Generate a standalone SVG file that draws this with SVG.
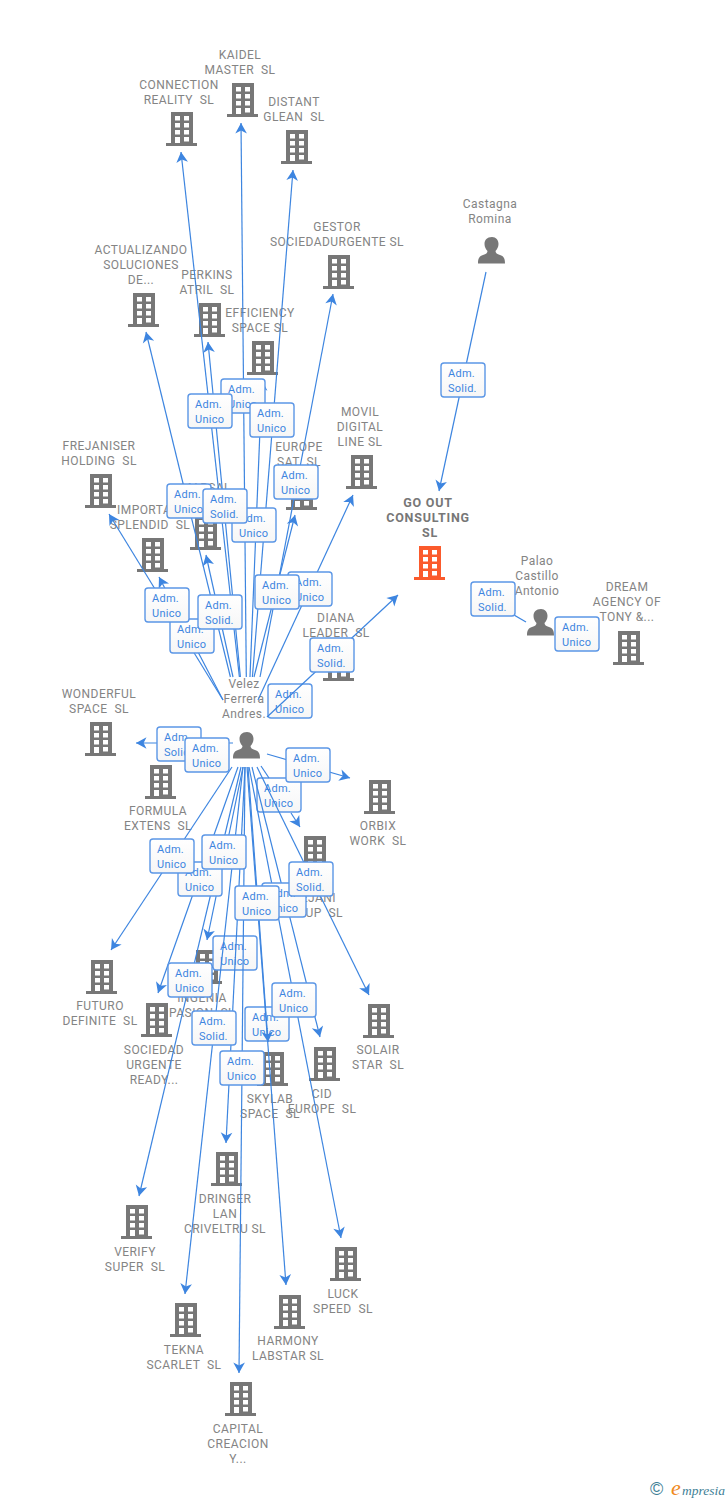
<svg xmlns="http://www.w3.org/2000/svg" width="728" height="1500" viewBox="0 0 728 1500">
<style>
text{font-family:Roboto,"Liberation Sans",sans-serif;white-space:pre}
.l{font-size:12px;fill:#848484;text-anchor:middle;letter-spacing:.45px;transform:translateY(.5px)}
.b{font-weight:700;font-size:12.500px;fill:#777;letter-spacing:.8px}
.c line{stroke:#3d85e0;stroke-width:1.2;fill:none;marker-end:url(#a)}
.c line.s{marker-end:none}
.t rect{fill:url(#g);stroke:#5b96e6;stroke-width:1.4}
.t text{font-size:11px;fill:#3d85e0;letter-spacing:.25px}
</style>
<defs>
<linearGradient id="g" x1="0" y1="0" x2="0" y2="1"><stop offset="0" stop-color="#fff"/><stop offset="1" stop-color="#f6f6f6"/></linearGradient>
<marker id="a" markerUnits="userSpaceOnUse" markerWidth="14" markerHeight="14" refX="10" refY="6" orient="auto" viewBox="0 0 12 12"><path d="M10 6 L1 1 L3.5 6 L1 11 Z" fill="#3d85e0"/></marker>
<symbol id="h" width="32" height="34" overflow="visible"><path fill="#777" fill-rule="evenodd" d="M5 0H27V31H31V34H0V31H5ZM9 4V8.5H14V4ZM18 4V8.5H23V4ZM9 11V15.5H14V11ZM18 11V15.5H23V11ZM9 18V22.5H14V18ZM18 18V22.5H23V18ZM9 25V31H14V25ZM18 25V29.5H23V25Z"/></symbol>
<symbol id="o" width="32" height="34" overflow="visible"><path fill="#fb5a2c" fill-rule="evenodd" d="M5 0H27V31H31V34H0V31H5ZM9 4V8.5H14V4ZM18 4V8.5H23V4ZM9 11V15.5H14V11ZM18 11V15.5H23V11ZM9 18V22.5H14V18ZM18 18V22.5H23V18ZM9 25V31H14V25ZM18 25V29.5H23V25Z"/></symbol>
<symbol id="p" width="28" height="27" overflow="visible"><path fill="#777" d="M14 0C18 0 20.500 3 20.500 7C20.500 10 19 12.500 17.500 14C17.500 16 19 17 22 18C25.500 19.200 27 21 27 26.500H0C0 21 1.500 19.200 5 18C8 17 9.500 16 9.500 14C8 12.500 6.500 10 6.500 7C6.500 3 9 0 14 0Z"/></symbol>
</defs>
<rect width="728" height="1500" fill="#fff"/>

<g id="n-kaidel"><use href="#h" x="227" y="83"/><text class="l" x="240" y="58">KAIDEL</text><text class="l" x="240" y="73">MASTER  SL</text></g>
<g id="n-connection"><use href="#h" x="166" y="112"/><text class="l" x="179" y="88">CONNECTION</text><text class="l" x="179" y="103">REALITY  SL</text></g>
<g id="n-distant"><use href="#h" x="281" y="130"/><text class="l" x="294" y="105">DISTANT</text><text class="l" x="294" y="120">GLEAN  SL</text></g>
<g id="n-gestor"><use href="#h" x="323" y="255"/><text class="l" x="337" y="230">GESTOR</text><text class="l" x="337" y="245">SOCIEDADURGENTE SL</text></g>
<g id="n-castagna"><use href="#p" x="478" y="237"/><text class="l" x="490" y="207">Castagna</text><text class="l" x="490" y="222">Romina</text></g>
<g id="n-actualizando"><use href="#h" x="128" y="293"/><text class="l" x="141" y="253">ACTUALIZANDO</text><text class="l" x="141" y="268">SOLUCIONES</text><text class="l" x="141" y="283">DE...</text></g>
<g id="n-perkins"><use href="#h" x="194" y="303"/><text class="l" x="207" y="278">PERKINS</text><text class="l" x="207" y="293">ATRIL  SL</text></g>
<g id="n-efficiency"><use href="#h" x="247" y="341"/><text class="l" x="260" y="316">EFFICIENCY</text><text class="l" x="260" y="331">SPACE SL</text></g>
<g id="n-movil"><use href="#h" x="346" y="455"/><text class="l" x="360" y="415">MOVIL</text><text class="l" x="360" y="430">DIGITAL</text><text class="l" x="360" y="445">LINE SL</text></g>
<g id="n-europe"><use href="#h" x="286" y="476"/><text class="l" x="299" y="450">EUROPE</text><text class="l" x="299" y="465">SAT  SL</text></g>
<g id="n-frejaniser"><use href="#h" x="85" y="474"/><text class="l" x="99" y="449">FREJANISER</text><text class="l" x="99" y="464">HOLDING  SL</text></g>
<g id="n-importa"><use href="#h" x="137" y="538"/><text class="l" x="117" y="513" style="text-anchor:start">IMPORTA</text><text class="l" x="150" y="528">SPLENDID  SL</text></g>
<g id="n-marsal"><use href="#h" x="190" y="516"/><text class="l" x="206" y="491">MARSAL</text></g>
<g id="n-goout"><use href="#o" x="414" y="546"/><text class="l b" x="428" y="506">GO OUT</text><text class="l b" x="428" y="521">CONSULTING</text><text class="l b" x="430" y="536">SL</text></g>
<g id="n-palao"><use href="#p" x="527" y="609"/><text class="l" x="537" y="564">Palao</text><text class="l" x="537" y="579">Castillo</text><text class="l" x="537" y="594">Antonio</text></g>
<g id="n-dream"><use href="#h" x="613" y="631"/><text class="l" x="627" y="590">DREAM</text><text class="l" x="627" y="605">AGENCY OF</text><text class="l" x="627" y="620">TONY &amp;...</text></g>
<g id="n-diana"><use href="#h" x="323" y="647"/><text class="l" x="336" y="621">DIANA</text><text class="l" x="336" y="636">LEADER  SL</text></g>
<g id="n-wonderful"><use href="#h" x="85" y="722"/><text class="l" x="99" y="697">WONDERFUL</text><text class="l" x="99" y="712">SPACE  SL</text></g>
<g id="n-velez"><use href="#p" x="233" y="732"/><text class="l" x="244" y="687">Velez</text><text class="l" x="244" y="702">Ferrera</text><text class="l" x="244" y="717">Andres.</text></g>
<g id="n-formula"><use href="#h" x="145" y="765"/><text class="l" x="158" y="814">FORMULA</text><text class="l" x="158" y="829">EXTENS  SL</text></g>
<g id="n-orbix"><use href="#h" x="364" y="780"/><text class="l" x="378" y="829">ORBIX</text><text class="l" x="378" y="844">WORK  SL</text></g>
<g id="n-fejani"><use href="#h" x="299" y="836"/><text class="l" x="336" y="901" style="text-anchor:end">EJANI</text><text class="l" x="343" y="916" style="text-anchor:end">UP  SL</text></g>
<g id="n-futuro"><use href="#h" x="86" y="960"/><text class="l" x="100" y="1009">FUTURO</text><text class="l" x="100" y="1024">DEFINITE  SL</text></g>
<g id="n-ingenia"><use href="#h" x="191" y="950"/><text class="l" x="202" y="1001">INGENIA</text><text class="l" x="202" y="1016">PASION  SL</text></g>
<g id="n-sociedad"><use href="#h" x="141" y="1003"/><text class="l" x="154" y="1053">SOCIEDAD</text><text class="l" x="154" y="1068">URGENTE</text><text class="l" x="154" y="1083">READY...</text></g>
<g id="n-solair"><use href="#h" x="363" y="1004"/><text class="l" x="378" y="1053">SOLAIR</text><text class="l" x="378" y="1068">STAR  SL</text></g>
<g id="n-skylab"><use href="#h" x="257" y="1052"/><text class="l" x="270" y="1102">SKYLAB</text><text class="l" x="270" y="1117">SPACE  SL</text></g>
<g id="n-cid"><use href="#h" x="309" y="1047"/><text class="l" x="322" y="1097">CID</text><text class="l" x="322" y="1112">EUROPE  SL</text></g>
<g id="n-dringer"><use href="#h" x="211" y="1152"/><text class="l" x="225" y="1202">DRINGER</text><text class="l" x="225" y="1217">LAN</text><text class="l" x="225" y="1232">CRIVELTRU SL</text></g>
<g id="n-verify"><use href="#h" x="121" y="1205"/><text class="l" x="135" y="1255">VERIFY</text><text class="l" x="135" y="1270">SUPER  SL</text></g>
<g id="n-luck"><use href="#h" x="330" y="1247"/><text class="l" x="343" y="1297">LUCK</text><text class="l" x="343" y="1312">SPEED  SL</text></g>
<g id="n-tekna"><use href="#h" x="170" y="1303"/><text class="l" x="184" y="1353">TEKNA</text><text class="l" x="184" y="1368">SCARLET  SL</text></g>
<g id="n-harmony"><use href="#h" x="274" y="1295"/><text class="l" x="288" y="1344">HARMONY</text><text class="l" x="288" y="1359">LABSTAR SL</text></g>
<g id="n-capital"><use href="#h" x="225" y="1382"/><text class="l" x="238" y="1432">CAPITAL</text><text class="l" x="238" y="1447">CREACION</text><text class="l" x="238" y="1462">Y...</text></g>

<g id="labels-under" class="t">
<g transform="translate(268,684)"><rect width="44" height="34" rx="3"/><text x="7" y="14">Adm.</text><text x="7" y="29">Unico</text></g>
<g transform="translate(245,1007)"><rect width="44" height="34" rx="3"/><text x="7" y="14">Adm.</text><text x="7" y="29">Unico</text></g>
<g transform="translate(213,936)"><rect width="44" height="34" rx="3"/><text x="7" y="14">Adm.</text><text x="7" y="29">Unico</text></g>
<g transform="translate(257,778)"><rect width="44" height="34" rx="3"/><text x="7" y="14">Adm.</text><text x="7" y="29">Unico</text></g>
</g>

<g id="connectors" class="c">
<line x1="239.400" y1="677" x2="181" y2="152"/>
<line x1="246.300" y1="677" x2="241" y2="123"/>
<line x1="252.400" y1="677" x2="293" y2="170"/>
<line x1="260" y1="677" x2="333" y2="294"/>
<line x1="230.400" y1="677" x2="146" y2="332"/>
<line x1="240.400" y1="677" x2="208" y2="342"/>
<line x1="250" y1="677" x2="262" y2="380"/>
<line x1="258" y1="700" x2="353" y2="495"/>
<line x1="254" y1="677" x2="295" y2="515"/>
<line x1="223" y1="700" x2="109" y2="514"/>
<line x1="223" y1="700" x2="159" y2="577"/>
<line x1="233" y1="677" x2="206" y2="555"/>
<line x1="267" y1="717" x2="398" y2="595"/>
<line x1="233" y1="743" x2="136" y2="743"/>
<line x1="267" y1="754" x2="350" y2="778"/>
<line class="s" x1="261" y1="766" x2="269" y2="778"/>
<line x1="291" y1="813" x2="300" y2="827"/>
<line x1="257" y1="767" x2="369" y2="995"/>
<line x1="232" y1="767" x2="111" y2="950"/>
<line x1="238" y1="767" x2="158" y2="993"/>
<line x1="243" y1="767" x2="207" y2="940"/>
<line x1="252" y1="767" x2="320" y2="1037"/>
<line x1="248" y1="767" x2="268" y2="1042"/>
<line x1="245" y1="767" x2="226" y2="1143"/>
<line x1="241" y1="767" x2="139" y2="1196"/>
<line x1="249" y1="767" x2="341" y2="1238"/>
<line x1="243" y1="767" x2="185" y2="1294"/>
<line x1="247" y1="767" x2="286" y2="1285"/>
<line x1="245" y1="767" x2="239" y2="1373"/>
<line x1="486" y1="272" x2="439" y2="491"/>
<line x1="526" y1="622" x2="471" y2="590"/>
<line x1="555" y1="630" x2="598" y2="640"/>
</g>

<g id="labels" class="t">
<g transform="translate(441,363)"><rect width="44" height="34" rx="3"/><text x="7" y="14">Adm.</text><text x="7" y="29">Solid.</text></g>
<g transform="translate(221,379)"><rect width="44" height="34" rx="3"/><text x="7" y="14">Adm.</text><text x="7" y="29">Unico</text></g>
<g transform="translate(250,403)"><rect width="44" height="34" rx="3"/><text x="7" y="14">Adm.</text><text x="7" y="29">Unico</text></g>
<g transform="translate(188,394)"><rect width="44" height="34" rx="3"/><text x="7" y="14">Adm.</text><text x="7" y="29">Unico</text></g>
<g transform="translate(274,465)"><rect width="44" height="34" rx="3"/><text x="7" y="14">Adm.</text><text x="7" y="29">Unico</text></g>
<g transform="translate(232,508)"><rect width="44" height="34" rx="3"/><text x="7" y="14">Adm.</text><text x="7" y="29">Unico</text></g>
<g transform="translate(167,484)"><rect width="44" height="34" rx="3"/><text x="7" y="14">Adm.</text><text x="7" y="29">Unico</text></g>
<g transform="translate(203,489)"><rect width="44" height="34" rx="3"/><text x="7" y="14">Adm.</text><text x="7" y="29">Solid.</text></g>
<g transform="translate(288,572)"><rect width="44" height="34" rx="3"/><text x="7" y="14">Adm.</text><text x="7" y="29">Unico</text></g>
<g transform="translate(255,575)"><rect width="44" height="34" rx="3"/><text x="7" y="14">Adm.</text><text x="7" y="29">Unico</text></g>
<g transform="translate(170,619)"><rect width="44" height="34" rx="3"/><text x="7" y="14">Adm.</text><text x="7" y="29">Unico</text></g>
<g transform="translate(145,588)"><rect width="44" height="34" rx="3"/><text x="7" y="14">Adm.</text><text x="7" y="29">Unico</text></g>
<g transform="translate(198,595)"><rect width="44" height="34" rx="3"/><text x="7" y="14">Adm.</text><text x="7" y="29">Solid.</text></g>
<g transform="translate(310,638)"><rect width="44" height="34" rx="3"/><text x="7" y="14">Adm.</text><text x="7" y="29">Solid.</text></g>
<g transform="translate(471,582)"><rect width="44" height="34" rx="3"/><text x="7" y="14">Adm.</text><text x="7" y="29">Solid.</text></g>
<g transform="translate(555,617)"><rect width="44" height="34" rx="3"/><text x="7" y="14">Adm.</text><text x="7" y="29">Unico</text></g>
<g transform="translate(157,727)"><rect width="44" height="34" rx="3"/><text x="7" y="14">Adm.</text><text x="7" y="29">Solid.</text></g>
<g transform="translate(185,738)"><rect width="44" height="34" rx="3"/><text x="7" y="14">Adm.</text><text x="7" y="29">Unico</text></g>
<g transform="translate(286,748)"><rect width="44" height="34" rx="3"/><text x="7" y="14">Adm.</text><text x="7" y="29">Unico</text></g>
<g transform="translate(178,862)"><rect width="44" height="34" rx="3"/><text x="7" y="14">Adm.</text><text x="7" y="29">Unico</text></g>
<g transform="translate(150,839)"><rect width="44" height="34" rx="3"/><text x="7" y="14">Adm.</text><text x="7" y="29">Unico</text></g>
<g transform="translate(202,835)"><rect width="44" height="34" rx="3"/><text x="7" y="14">Adm.</text><text x="7" y="29">Unico</text></g>
<g transform="translate(262,883)"><rect width="44" height="34" rx="3"/><text x="7" y="14">Adm.</text><text x="7" y="29">Unico</text></g>
<g transform="translate(235,886)"><rect width="44" height="34" rx="3"/><text x="7" y="14">Adm.</text><text x="7" y="29">Unico</text></g>
<g transform="translate(289,862)"><rect width="44" height="34" rx="3"/><text x="7" y="14">Adm.</text><text x="7" y="29">Solid.</text></g>
<g transform="translate(168,963)"><rect width="44" height="34" rx="3"/><text x="7" y="14">Adm.</text><text x="7" y="29">Unico</text></g>
<g transform="translate(272,983)"><rect width="44" height="34" rx="3"/><text x="7" y="14">Adm.</text><text x="7" y="29">Unico</text></g>
<g transform="translate(192,1011)"><rect width="44" height="34" rx="3"/><text x="7" y="14">Adm.</text><text x="7" y="29">Solid.</text></g>
<g transform="translate(220,1051)"><rect width="44" height="34" rx="3"/><text x="7" y="14">Adm.</text><text x="7" y="29">Unico</text></g>
</g>

<g id="logo"><text x="650" y="1495" font-size="18" fill="#3f7f96" style="font-family:'Liberation Sans',sans-serif">©</text><text x="671" y="1495" font-size="22" fill="#f08a1d" font-style="italic" style="font-family:'Liberation Serif',serif">e</text><text x="682" y="1495" font-size="13.500" fill="#3f7f96" font-style="italic" style="font-family:'Liberation Serif',serif">mpresia</text></g>
</svg>
